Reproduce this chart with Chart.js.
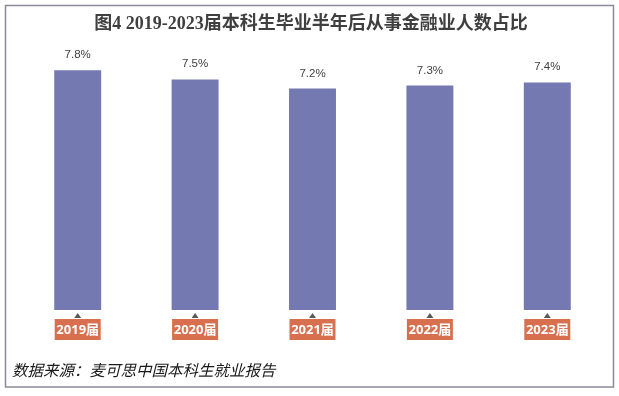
<!DOCTYPE html>
<html>
<head>
<meta charset="utf-8">
<script src="https://cdn.jsdelivr.net/npm/chart.js@4/dist/chart.umd.min.js"></script>
<style>
html,body{margin:0;padding:0;background:#fff;}
#wrap{width:619px;height:396px;position:relative;}
</style>
</head>
<body>
<div id="wrap"><canvas id="c" width="619" height="396"></canvas></div>
<script>
const titleText = '图4 2019-2023届本科生毕业半年后从事金融业人数占比';
const sourceText = '数据来源：麦可思中国本科生就业报告';
const categories = ['2019届', '2020届', '2021届', '2022届', '2023届'];
const shareValues = [7.8, 7.5, 7.2, 7.3, 7.4];

const decor = {
  id: 'decor',
  beforeDraw(chart) {
    const ctx = chart.ctx;
    ctx.save();
    ctx.fillStyle = '#ffffff';
    ctx.fillRect(0, 0, chart.width, chart.height);
    ctx.strokeStyle = '#8c8a98';
    ctx.lineWidth = 1.5;
    ctx.strokeRect(5.5, 5.5, 608, 381.5);
    ctx.restore();
  },
  afterDraw(chart) {
    const ctx = chart.ctx;
    const x = chart.scales.x;
    ctx.save();
    // title
    ctx.fillStyle = '#3f3f3f';
    ctx.font = 'bold 18px "Liberation Serif", "Noto Sans CJK SC"';
    ctx.textAlign = 'center';
    ctx.textBaseline = 'middle';
    ctx.fillText(titleText, 311, 24);
    // data labels
    const meta = chart.getDatasetMeta(0);
    ctx.font = '11.5px "Liberation Sans", Arial, sans-serif';
    ctx.fillStyle = '#404040';
    ctx.textBaseline = 'alphabetic';
    meta.data.forEach((bar, i) => {
      ctx.fillText(shareValues[i].toFixed(1) + '%', bar.x, bar.y - 12);
    });
    // category labels
    categories.forEach((lab, i) => {
      const cx = x.getPixelForTick(i);
      ctx.fillStyle = '#595959';
      ctx.beginPath();
      ctx.moveTo(cx, 313);
      ctx.lineTo(cx - 3.5, 318);
      ctx.lineTo(cx + 3.5, 318);
      ctx.closePath();
      ctx.fill();
      ctx.fillStyle = '#d8704f';
      ctx.fillRect(cx - 23, 319, 46, 21);
      ctx.fillStyle = '#ffffff';
      ctx.font = 'bold 13px "Open Sans", "Noto Sans CJK SC", sans-serif';
      ctx.textBaseline = 'middle';
      ctx.fillText(lab, cx, 330);
    });
    // source
    ctx.fillStyle = '#1a1a1a';
    ctx.font = 'italic 15.5px "Noto Sans CJK SC", sans-serif';
    ctx.textAlign = 'left';
    ctx.textBaseline = 'middle';
    ctx.fillText(sourceText, 12, 370);
    ctx.restore();
  }
};

new Chart(document.getElementById('c'), {
  type: 'bar',
  data: {
    labels: categories,
    datasets: [{
      data: shareValues,
      backgroundColor: '#7479b1',
      borderWidth: 0,
      categoryPercentage: 1,
      barPercentage: 0.4
    }]
  },
  options: {
    responsive: false,
    animation: false,
    devicePixelRatio: 1,
    layout: { padding: { left: 19, right: 13, top: 64, bottom: 86 } },
    plugins: { legend: { display: false }, title: { display: false }, tooltip: { enabled: false } },
    scales: {
      x: { display: false },
      y: { display: false, min: 0, max: 8 }
    }
  },
  plugins: [decor]
});
</script>
</body>
</html>
